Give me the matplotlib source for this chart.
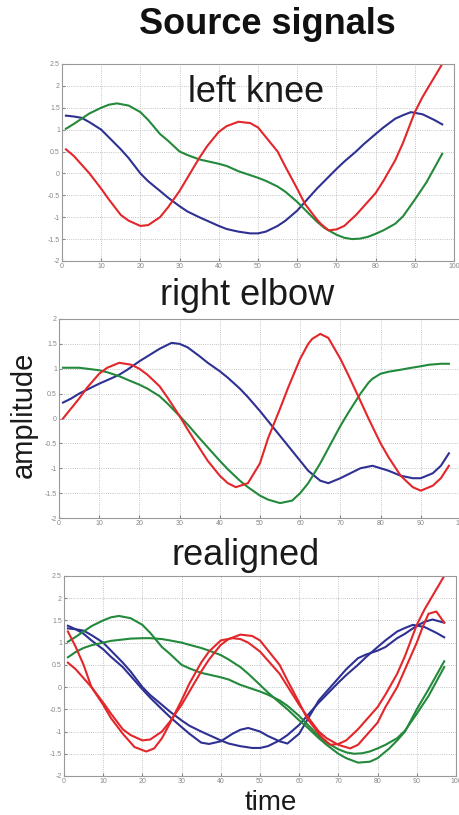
import matplotlib.pyplot as plt

plt.rcParams['font.family'] = ['Liberation Sans', 'DejaVu Sans']

BLUE = '#2e3192'
GREEN = '#23893b'
RED = '#e3262a'

# left knee
knee_blue_t = [1, 3, 5, 7, 10, 12, 15, 17, 20, 22, 25, 27, 30, 32, 35, 37, 40, 42, 45, 48, 50, 52,
               55, 57, 60, 62, 65, 67, 70, 72, 75, 77, 80, 82, 85, 87, 89, 92, 95, 97]
knee_blue = [1.32, 1.3, 1.27, 1.17, 1.0, 0.82, 0.55, 0.35, 0.0, -0.18, -0.4, -0.55, -0.75, -0.87,
             -1.0, -1.08, -1.2, -1.27, -1.33, -1.37, -1.37, -1.33, -1.2, -1.08, -0.85, -0.65,
             -0.35, -0.17, 0.1, 0.27, 0.5, 0.67, 0.9, 1.05, 1.25, 1.33, 1.4, 1.35, 1.22, 1.12]
knee_green_t = [1, 3, 5, 7, 10, 12, 14, 17, 20, 22, 25, 27, 30, 32, 35, 37, 40, 42, 45, 47, 50, 52,
                55, 57, 60, 62, 65, 67, 70, 72, 74, 76, 78, 80, 82, 85, 87, 90, 93, 97]
knee_green = [1.02, 1.13, 1.25, 1.37, 1.5, 1.57, 1.6, 1.55, 1.4, 1.22, 0.9, 0.75, 0.5, 0.42, 0.32,
              0.28, 0.22, 0.17, 0.05, -0.01, -0.1, -0.17, -0.3, -0.42, -0.65, -0.83, -1.1, -1.25,
              -1.4, -1.47, -1.5, -1.49, -1.45, -1.38, -1.3, -1.15, -0.98, -0.6, -0.2, 0.45]
knee_red_t = [1, 3, 5, 7, 10, 12, 15, 17, 20, 22, 25, 27, 30, 32, 35, 37, 40, 42, 45, 48, 50, 52,
              55, 57, 60, 62, 65, 66, 68, 70, 72, 75, 77, 80, 82, 85, 87, 90, 92, 95, 97]
knee_red = [0.55, 0.4, 0.2, 0.0, -0.35, -0.6, -0.95, -1.08, -1.2, -1.18, -1.0, -0.78, -0.4, -0.1,
            0.35, 0.62, 0.95, 1.08, 1.18, 1.15, 1.05, 0.83, 0.5, 0.15, -0.35, -0.7, -1.05, -1.15,
            -1.3, -1.28, -1.2, -0.95, -0.75, -0.45, -0.17, 0.3, 0.7, 1.4, 1.75, 2.2, 2.5]

# right elbow
elbow_blue_t = [1, 3, 5, 7, 10, 12, 15, 17, 20, 22, 25, 28, 30, 32, 35, 37, 40, 42, 45, 47, 50, 52,
                55, 57, 60, 62, 65, 67, 70, 72, 75, 78, 80, 82, 85, 88, 90, 93, 95, 97]
elbow_blue = [0.32, 0.4, 0.5, 0.58, 0.7, 0.77, 0.88, 0.98, 1.15, 1.25, 1.4, 1.52, 1.5, 1.43, 1.25,
              1.12, 0.95, 0.82, 0.6, 0.43, 0.15, -0.05, -0.35, -0.55, -0.85, -1.05, -1.25, -1.3,
              -1.2, -1.12, -1.0, -0.95, -1.0, -1.05, -1.15, -1.2, -1.2, -1.1, -0.95, -0.7]
elbow_green_t = [1, 3, 5, 7, 10, 12, 15, 17, 20, 22, 25, 27, 30, 32, 35, 37, 40, 42, 45, 47, 50, 52,
                 55, 58, 60, 62, 65, 67, 70, 72, 75, 77, 78, 80, 82, 85, 87, 90, 92, 95, 97]
elbow_green = [1.02, 1.02, 1.02, 1.0, 0.97, 0.93, 0.85, 0.78, 0.68, 0.6, 0.45, 0.3, 0.05, -0.12,
               -0.4, -0.58, -0.85, -1.02, -1.25, -1.38, -1.55, -1.63, -1.7, -1.65, -1.5, -1.3,
               -0.9, -0.6, -0.15, 0.12, 0.5, 0.72, 0.8, 0.9, 0.94, 0.98, 1.01, 1.05, 1.08, 1.1, 1.1]
elbow_red_t = [1, 3, 5, 7, 10, 12, 15, 18, 20, 22, 25, 27, 30, 32, 35, 37, 40, 42, 44, 47, 50, 52,
               55, 57, 60, 62, 63, 65, 67, 70, 72, 75, 77, 80, 82, 85, 88, 90, 93, 95, 97]
elbow_red = [0.0, 0.2, 0.4, 0.62, 0.9, 1.02, 1.12, 1.08, 1.0, 0.88, 0.65, 0.42, 0.05, -0.22, -0.6,
             -0.85, -1.15, -1.3, -1.38, -1.3, -0.9, -0.4, 0.2, 0.62, 1.2, 1.5, 1.6, 1.7, 1.62, 1.2,
             0.87, 0.35, 0.0, -0.5, -0.78, -1.15, -1.38, -1.45, -1.35, -1.2, -0.95]

# right elbow after realignment onto the knee
real_blue_t = [1, 3, 5, 7, 10, 12, 15, 17, 20, 22, 25, 27, 30, 32, 35, 37, 40, 43, 45, 47, 50, 52,
               55, 57, 60, 62, 63, 65, 67, 70, 72, 75, 77, 80, 82, 85, 87, 90, 92, 94, 97]
real_blue = [1.38, 1.3, 1.2, 1.05, 0.85, 0.68, 0.45, 0.25, -0.05, -0.24, -0.5, -0.67, -0.9, -1.05,
             -1.25, -1.28, -1.22, -1.05, -0.96, -0.92, -1.0, -1.1, -1.22, -1.27, -1.05, -0.75,
             -0.6, -0.3, -0.1, 0.2, 0.4, 0.65, 0.73, 0.82, 0.9, 1.1, 1.2, 1.38, 1.47, 1.52, 1.45]
real_green_t = [1, 3, 5, 7, 10, 12, 15, 17, 20, 22, 25, 27, 30, 32, 35, 37, 40, 42, 45, 47, 50, 52,
                55, 57, 60, 62, 65, 67, 70, 72, 75, 78, 80, 83, 85, 87, 90, 93, 97]
real_green = [0.67, 0.79, 0.88, 0.94, 1.0, 1.04, 1.07, 1.09, 1.1, 1.1, 1.08, 1.05, 1.0, 0.95, 0.88,
              0.82, 0.72, 0.62, 0.45, 0.3, 0.05, -0.12, -0.35, -0.5, -0.75, -0.9, -1.15, -1.3,
              -1.5, -1.6, -1.7, -1.68, -1.6, -1.38, -1.2, -1.0, -0.5, -0.05, 0.58]
real_red_t = [1, 3, 5, 7, 10, 12, 15, 18, 21, 23, 25, 27, 30, 32, 35, 37, 40, 43, 45, 47, 50, 52,
              55, 57, 60, 62, 65, 67, 70, 73, 75, 77, 80, 82, 85, 87, 90, 91.5, 93, 95, 97]
real_red = [1.25, 0.9, 0.5, 0.0, -0.4, -0.7, -1.05, -1.35, -1.45, -1.38, -1.15, -0.82, -0.3, 0.08,
            0.55, 0.8, 1.05, 1.1, 1.08, 1.0, 0.8, 0.6, 0.3, 0.02, -0.4, -0.65, -1.0, -1.15, -1.3,
            -1.38, -1.3, -1.1, -0.8, -0.45, 0.0, 0.4, 1.0, 1.35, 1.65, 1.7, 1.45]

x_ticks = list(range(0, 101, 10))


def style(ax, ymin, ymax):
    ax.set_xlim(0, 100)
    ax.set_ylim(ymin, ymax)
    ax.set_xticks(x_ticks)
    yt = [ymin + 0.5 * i for i in range(int((ymax - ymin) / 0.5) + 1)]
    ax.set_yticks(yt)
    ax.set_yticklabels(['%g' % v for v in yt])
    ax.grid(True, linestyle=':', color='#b0b0b0', linewidth=0.6)
    ax.tick_params(direction='in', length=2.5, labelsize=5, colors='#888888', pad=1.5)
    for s in ax.spines.values():
        s.set_color('#999999')
        s.set_linewidth(0.8)


fig = plt.figure(figsize=(4.59, 8.15), dpi=100)

ax1 = fig.add_axes([0.1351, 0.6798, 0.854, 0.2417])
ax1.plot(knee_blue_t, knee_blue, color=BLUE, lw=1.5)
ax1.plot(knee_green_t, knee_green, color=GREEN, lw=1.5)
ax1.plot(knee_red_t, knee_red, color=RED, lw=1.5)
style(ax1, -2, 2.5)

ax2 = fig.add_axes([0.1285, 0.3644, 0.8758, 0.2442])
ax2.plot(elbow_blue_t, elbow_blue, color=BLUE, lw=1.5)
ax2.plot(elbow_green_t, elbow_green, color=GREEN, lw=1.5)
ax2.plot(elbow_red_t, elbow_red, color=RED, lw=1.5)
style(ax2, -2, 2)

ax3 = fig.add_axes([0.1394, 0.0479, 0.854, 0.2454])
ax3.plot(knee_blue_t, knee_blue, color=BLUE, lw=1.5)
ax3.plot(real_blue_t, real_blue, color=BLUE, lw=1.5)
ax3.plot(knee_green_t, knee_green, color=GREEN, lw=1.5)
ax3.plot(real_green_t, real_green, color=GREEN, lw=1.5)
ax3.plot(knee_red_t, knee_red, color=RED, lw=1.5)
ax3.plot(real_red_t, real_red, color=RED, lw=1.5)
style(ax3, -2, 2.5)

H = 815.0
W = 459.0
fig.text(267 / W, 1 - 34 / H, 'Source signals', ha='center', va='baseline',
         fontsize=26, fontweight='bold', color='#111111')
fig.text(256 / W, 1 - 102 / H, 'left knee', ha='center', va='baseline', fontsize=26, color='#1a1a1a')
fig.text(247 / W, 1 - 305 / H, 'right elbow', ha='center', va='baseline', fontsize=26, color='#1a1a1a')
fig.text(246 / W, 1 - 565 / H, 'realigned', ha='center', va='baseline', fontsize=26, color='#1a1a1a')
fig.text(271 / W, 1 - 810 / H, 'time', ha='center', va='baseline', fontsize=20, color='#1a1a1a')
fig.text(24 / W, 1 - 415 / H, 'amplitude', ha='center', va='center', rotation=90,
         fontsize=21, color='#1a1a1a')

fig.savefig('out.png', dpi=100)
